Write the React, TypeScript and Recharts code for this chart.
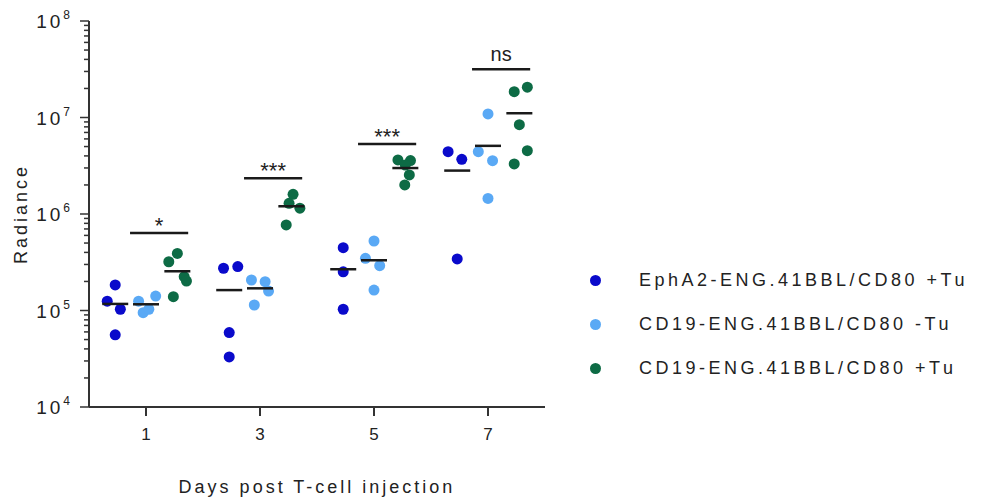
import React from 'react';
import { ScatterChart, Scatter, XAxis, YAxis, ReferenceLine, Legend } from 'recharts';

const days = [1, 3, 5, 7];
const seriesNames = ['EphA2-ENG.41BBL/CD80 +Tu', 'CD19-ENG.41BBL/CD80 -Tu', 'CD19-ENG.41BBL/CD80 +Tu'];
const seriesColors = ['#0a0acb', '#5aa9f5', '#0d6b45'];

// radiance per mouse, one list per day
const ephA2Tu = [
  [1.84e5, 1.25e5, 1.03e5, 5.6e4],
  [2.74e5, 2.85e5, 5.9e4, 3.3e4],
  [4.48e5, 2.52e5, 1.03e5],
  [4.42e6, 3.69e6, 3.42e5],
];
const cd19NoTu = [
  [1.25e5, 9.5e4, 1.03e5, 1.41e5],
  [2.07e5, 1.99e5, 1.59e5, 1.14e5],
  [5.25e5, 3.47e5, 2.91e5, 1.63e5],
  [1.09e7, 4.42e6, 3.57e6, 1.45e6],
];
const cd19Tu = [
  [3.2e5, 3.9e5, 2.24e5, 2.02e5, 1.39e5],
  [1.6e6, 1.29e6, 1.15e6, 7.7e5],
  [3.63e6, 3.58e6, 3.22e6, 2.54e6, 2.0e6],
  [1.85e7, 2.06e7, 8.42e6, 4.53e6, 3.3e6],
];

// sideways spread of the dots inside a group (x units)
const ephA2Jitter = [
  [0, -0.14, 0.09, 0],
  [-0.1, 0.15, 0, 0],
  [0, 0, 0],
  [-0.16, 0.08, 0],
];
const cd19NoJitter = [
  [-0.13, -0.05, 0.05, 0.17],
  [-0.15, 0.09, 0.15, -0.1],
  [0, -0.15, 0.1, 0],
  [0, -0.17, 0.08, 0],
];
const cd19TuJitter = [
  [-0.15, 0, 0.12, 0.16, -0.07],
  [0.03, -0.04, 0.15, -0.09],
  [-0.13, 0.09, 0, 0.07, -0.01],
  [-0.09, 0.14, 0, 0.14, -0.09],
];

const sigLabels = ['*', '***', '***', 'ns'];
const sigLevels = [6.35e5, 2.34e6, 5.31e6, 3.16e7];

const xTicks = [1, 3, 5, 7];
const yMajor = [1e4, 1e5, 1e6, 1e7, 1e8];
const yMinor = [1e4, 1e5, 1e6, 1e7].flatMap(p => [2, 3, 4, 5, 6, 7, 8, 9].map(m => m * p));

const FONT = '"Liberation Sans", Arial, sans-serif';
const INK = '#222';

const groups = [
  { name: seriesNames[0], color: seriesColors[0], values: ephA2Tu, jitter: ephA2Jitter, offset: -0.54 },
  { name: seriesNames[1], color: seriesColors[1], values: cd19NoTu, jitter: cd19NoJitter, offset: 0 },
  { name: seriesNames[2], color: seriesColors[2], values: cd19Tu, jitter: cd19TuJitter, offset: 0.55 },
];

const mean = (arr: number[]) => arr.reduce((a, b) => a + b, 0) / arr.length;

const toPoints = (g: typeof groups[0]) =>
  days.flatMap((d, i) => g.values[i].map((v, j) => ({ x: d + g.offset + g.jitter[i][j], y: v })));

const toMeans = (g: typeof groups[0]) => days.map((d, i) => ({ x: d + g.offset, y: mean(g.values[i]) }));

const makeDot = (color: string) => (props: any) => <circle cx={props.cx} cy={props.cy} r={5.5} fill={color} />;

const MeanBar = (props: any) => (
  <line x1={props.cx - 13} x2={props.cx + 13} y1={props.cy} y2={props.cy} stroke="#1a1a1a" strokeWidth={2.5} />
);

const YTick = (props: any) => {
  const { x, y, payload } = props;
  const v = payload.value;
  const exp = Math.round(Math.log10(v));
  const major = Math.abs(Math.pow(10, exp) - v) < 1e-6 * v;
  return (
    <g>
      <line x1={x} x2={x - (major ? 9 : 5)} y1={y} y2={y} stroke="#333" strokeWidth={1.5} />
      {major && (
        <text x={73} y={y + 7} textAnchor="end" fill={INK} fontFamily={FONT} fontSize={19} style={{ letterSpacing: 3 }}>
          <tspan>10</tspan>
          <tspan dy={-9} fontSize={12}>{exp}</tspan>
        </text>
      )}
    </g>
  );
};

const YLabel = (props: any) => {
  const vb = props.viewBox;
  const cx = vb.x + 21;
  const cy = vb.y + vb.height / 2;
  return (
    <text x={cx} y={cy} transform={`rotate(-90 ${cx} ${cy})`} textAnchor="middle" dominantBaseline="central"
      fill={INK} fontFamily={FONT} fontSize={18} style={{ letterSpacing: 3 }}>
      Radiance
    </text>
  );
};

const XLabel = (props: any) => {
  const vb = props.viewBox;
  return (
    <text x={vb.x + vb.width / 2} y={493} textAnchor="middle" fill={INK} fontFamily={FONT} fontSize={18}
      style={{ letterSpacing: 3 }}>
      Days post T-cell injection
    </text>
  );
};

const LegendBox = () => (
  <div style={{ fontFamily: FONT }}>
    {groups.map(g => (
      <div key={g.name} style={{ display: 'flex', alignItems: 'center', height: 44 }}>
        <span style={{ width: 11, height: 11, borderRadius: '50%', background: g.color, display: 'inline-block' }} />
        <span style={{ marginLeft: 38, fontSize: 18, letterSpacing: 3.5, color: INK, whiteSpace: 'nowrap' }}>{g.name}</span>
      </div>
    ))}
  </div>
);

export default function App() {
  return (
    <div style={{ position: 'absolute', left: 0, top: 0, width: 990, height: 498, background: '#fff' }}>
      <ScatterChart width={990} height={498} margin={{ top: 21, right: 445, bottom: 0, left: 0 }}>
        <XAxis
          type="number"
          dataKey="x"
          domain={[0, 8]}
          ticks={xTicks}
          interval={0}
          height={91}
          stroke="#333"
          strokeWidth={2}
          tickSize={9}
          tickMargin={12}
          tick={{ fontSize: 17, fill: INK, fontFamily: FONT }}
          label={XLabel}
        />
        <YAxis
          type="number"
          dataKey="y"
          scale="log"
          domain={[1e4, 1e8]}
          allowDataOverflow
          ticks={[...yMajor, ...yMinor].sort((a, b) => a - b)}
          interval={0}
          width={89}
          stroke="#333"
          strokeWidth={2}
          tickLine={false}
          tickSize={0}
          tickMargin={0}
          tick={YTick}
          label={YLabel}
        />
        {groups.map(g => (
          <Scatter key={g.name} name={g.name} data={toPoints(g)} shape={makeDot(g.color)} isAnimationActive={false} />
        ))}
        {groups.map(g => (
          <Scatter key={g.name + '-mean'} data={toMeans(g)} shape={MeanBar} legendType="none" isAnimationActive={false} />
        ))}
        {days.map((d, i) => (
          <ReferenceLine
            key={'sig' + d}
            segment={[{ x: d - 0.28, y: sigLevels[i] }, { x: d + 0.74, y: sigLevels[i] }]}
            stroke="#1a1a1a"
            strokeWidth={2.5}
            label={{ value: sigLabels[i], position: 'top', offset: sigLabels[i] === 'ns' ? 8 : 0, fontSize: sigLabels[i] === 'ns' ? 20 : 22, fill: INK, fontFamily: FONT }}
          />
        ))}
        <Legend
          layout="horizontal"
          verticalAlign="middle"
          align="center"
          content={LegendBox}
          wrapperStyle={{ left: 590, top: 258, width: 400 }}
        />
      </ScatterChart>
    </div>
  );
}
